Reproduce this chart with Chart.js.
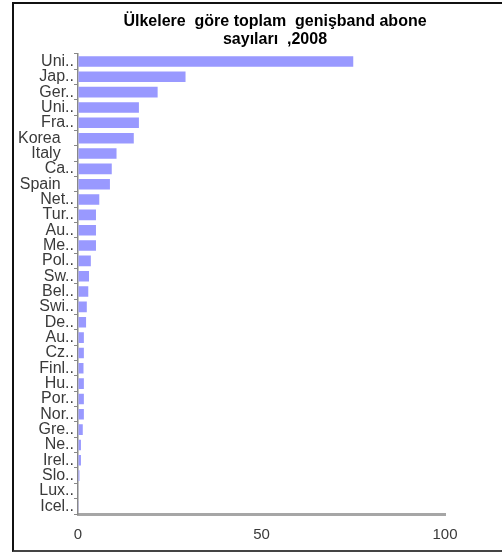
<!DOCTYPE html>
<html>
<head>
<meta charset="utf-8">
<script src="https://cdn.jsdelivr.net/npm/chart.js@4"></script>
<style>
  html, body { margin: 0; padding: 0; background: #fff; overflow: hidden; width: 502px; height: 552px; }
  #frame {
    position: absolute; left: 12px; top: 2px;
    width: 526px; height: 550px; box-sizing: border-box;
    border-left: 2px solid #111; border-top: 2px solid #111;
    border-right: 2px solid #111; border-bottom: 2px solid #444;
    background: #fff;
  }
  canvas { display: block; }
</style>
</head>
<body>
<div id="frame"><canvas id="chart" width="522" height="546"></canvas></div>
<script>
// Broadband subscribers by country, 2008 (millions)
const countries = [
  'Uni..', 'Jap..', 'Ger..', 'Uni..', 'Fra..', 'Korea   ', 'Italy   ', 'Ca..', 'Spain   ', 'Net..',
  'Tur..', 'Au..', 'Me..', 'Pol..', 'Sw..', 'Bel..', 'Swi..', 'De..', 'Au..', 'Cz..',
  'Finl..', 'Hu..', 'Por..', 'Nor..', 'Gre..', 'Ne..', 'Irel..', 'Slo..', 'Lux..', 'Icel..'
];
const subscribers = [
  75.0, 29.3, 21.7, 16.6, 16.6, 15.2, 10.5, 9.2, 8.7, 5.8,
  4.9, 4.9, 4.9, 3.5, 3.0, 2.8, 2.4, 2.2, 1.6, 1.6,
  1.5, 1.6, 1.6, 1.6, 1.3, 0.8, 0.8, 0.4, 0.15, 0.08
];
const titleLines = ['Ülkelere  göre toplam  genişband abone', 'sayıları  ,2008'];
const axisMin = 0;
const axisMax = 100;
const axisStep = 50;

const fontFamily = "'Liberation Sans', Arial, sans-serif";

new Chart(document.getElementById('chart'), {
  type: 'bar',
  data: {
    labels: countries,
    datasets: [{
      data: subscribers,
      backgroundColor: 'rgb(153,153,255)',
      borderWidth: 0,
      barPercentage: 0.69,
      categoryPercentage: 1.0
    }]
  },
  options: {
    indexAxis: 'y',
    responsive: false,
    animation: false,
    layout: { padding: { left: 0, right: 0, top: 0, bottom: 7 } },
    plugins: {
      legend: { display: false },
      tooltip: { enabled: false },
      title: {
        display: true,
        text: titleLines,
        color: '#000',
        font: { family: fontFamily, size: 16, weight: 'bold', lineHeight: 1.15 },
        padding: { top: 8, bottom: 5 }
      }
    },
    scales: {
      x: {
        type: 'linear',
        min: axisMin,
        max: axisMax,
        ticks: {
          stepSize: axisStep,
          color: '#3a3a3a',
          padding: 1,
          font: { family: fontFamily, size: 15, lineHeight: 1.0 }
        },
        grid: {
          display: true, drawOnChartArea: false, drawTicks: true,
          tickLength: 12, tickColor: 'rgba(0,0,0,0)'
        },
        border: { display: true, color: '#a6a6a6', width: 3 }
      },
      y: {
        type: 'category',
        ticks: {
          autoSkip: false,
          color: '#3a3a3a',
          padding: 0,
          font: { family: fontFamily, size: 16 }
        },
        grid: { display: true, offset: true, drawOnChartArea: false, drawTicks: true, tickLength: 4, color: '#888' },
        border: { display: true, color: '#888', width: 1.5 },
        afterFit: (scale) => { scale.width = 64; }
      },
      spacer: {
        type: 'linear',
        position: 'right',
        display: true,
        grid: { display: false },
        border: { display: false },
        ticks: { display: false },
        afterFit: (scale) => { scale.width = 91; }
      }
    }
  }
});
</script>
</body>
</html>
